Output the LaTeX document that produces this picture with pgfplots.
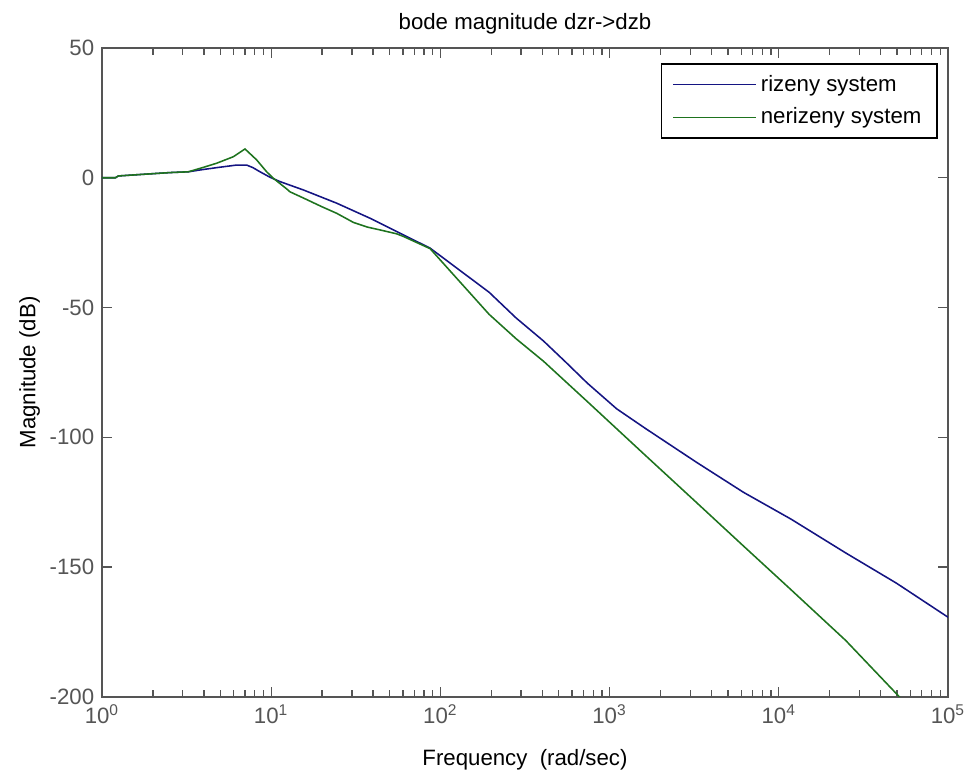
\documentclass[border=0pt]{standalone}
\usepackage{fontspec}
\setmainfont{Liberation Sans}
\usepackage{pgfplots}
\pgfplotsset{compat=1.18}

\definecolor{axgray}{RGB}{85,85,85}
\definecolor{mlblue}{RGB}{20,20,130}
\definecolor{mlgreen}{RGB}{30,115,30}

\begin{document}
\begin{tikzpicture}
  \begin{axis}[
    scale only axis,
    width=380.7pt,
    height=292pt,
    xmode=log,
    xmin=1, xmax=1e5,
    ymin=-200, ymax=50,
    xtick={1,10,100,1000,10000,100000},
    xticklabels={10\textsuperscript{0},10\textsuperscript{1},10\textsuperscript{2},
      10\textsuperscript{3},10\textsuperscript{4},10\textsuperscript{5}},
    ytick={-200,-150,-100,-50,0,50},
    /pgf/number format/assume math mode=true,
    axis line style={axgray, line width=0.6pt},
    every tick/.style={axgray, line width=0.6pt},
    major tick length=4.5pt,
    minor tick length=3pt,
    tick label style={text=axgray},
    title={bode magnitude dzr->dzb},
    % default title style already shifts up by 6pt
    title style={at={(axis description cs:0.5,1.0072)}, anchor=base},
    xlabel={Frequency\ \ (rad/sec)},
    xlabel style={at={(axis description cs:0.5,-0.106)}, anchor=base},
    ylabel={Magnitude (dB)},
    ylabel style={at={(axis description cs:-0.0788,0.5)}, anchor=base},
    legend style={
      at={(axis description cs:0.988,0.977)}, anchor=north east,
      draw=black, line width=0.8pt, inner xsep=5pt, inner ysep=3pt,
      row sep=2pt, cells={anchor=west}},
    legend image code/.code={\draw[#1] (0pt,0pt) -- (37pt,0pt);},
  ]
    % rizeny system
    \addplot[mlblue, line width=0.7pt] coordinates {
      (1,0) (1.2,0) (1.25,0.7) (1.92,1.5) (2.52,2.0) (3.24,2.3) (3.79,3.0)
      (4.76,3.9) (6.25,4.9) (7.16,4.9) (7.8,3.9) (8.59,2.3) (9.84,0.2)
      (11.3,-1.5) (15.5,-4.7) (24.4,-9.8) (38.4,-15.6) (60.4,-22.0)
      (86.9,-27.1) (125,-34.8) (194,-44.1) (280,-54) (407,-62.9) (550,-71)
      (738,-79.1) (1100,-89) (1630,-96.6) (3260,-109.6) (6190,-121.2)
      (11800,-131.5) (24800,-144.5) (49600,-156.2) (100000,-169.3)
    };
    \addlegendentry{rizeny system}
    % nerizeny system
    \addplot[mlgreen, line width=0.7pt] coordinates {
      (1,0) (1.2,0) (1.25,0.7) (1.92,1.5) (2.52,2.0) (3.24,2.3) (3.97,4.0)
      (4.76,5.6) (5.97,8.1) (7.0,11.1) (8.2,6.9) (9.4,2.3) (10.3,-0.2)
      (11.3,-2.3) (12.4,-4.4) (12.9,-5.4) (15.5,-7.8) (20,-11.2) (24.4,-13.7)
      (30.6,-17.2) (37,-19.0) (44,-20.1) (55.2,-21.6) (60.4,-22.6)
      (86.9,-27.3) (130,-40) (194,-52.6) (280,-62) (407,-70.7) (738,-86.2)
      (1630,-107.0) (3260,-125.1) (6190,-141.9) (11800,-158.7)
      (24800,-178.2) (52000,-200.2)
    };
    \addlegendentry{nerizeny system}
  \end{axis}
  \pgfresetboundingbox
  \path ([shift={(-45.9pt,-36.45pt)}]current axis.south west)
    rectangle ([shift={(10.8pt,21.6pt)}]current axis.north east);
\end{tikzpicture}
\end{document}
